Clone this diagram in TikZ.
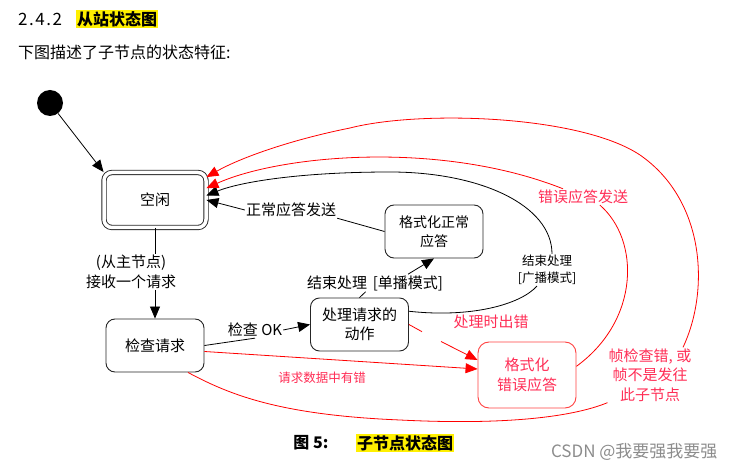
\documentclass[tikz,border=0pt]{standalone}
\usepackage{fontspec}
\setmainfont{Noto Sans CJK SC}
\usetikzlibrary{arrows.meta, positioning}

\definecolor{errred}{RGB}{255,0,0}
\definecolor{errtext}{RGB}{255,45,85}
\definecolor{hilite}{RGB}{255,240,0}

\begin{document}
\begin{tikzpicture}[x=1pt, y=-1pt,
        font=\fontsize{15}{19.5}\selectfont,
        state/.style={draw=black!85, line width=0.9pt, rounded corners=9pt, align=center, minimum width=98pt, minimum height=53pt, inner sep=2pt},
        errstate/.style={state, draw=errred!75, text=errtext, minimum height=66pt, rounded corners=11pt},
        lbl/.style={align=center, inner sep=1pt},
        small/.style={font=\fontsize{12.5}{17}\selectfont},
        arrow/.style={-{Triangle[length=12pt, width=10pt]}, line width=0.8pt},
        redline/.style={errred, line width=0.8pt},
        redarrow/.style={arrow, errred}
    ]
        \useasboundingbox (0,0) rectangle (736,470);

        % heading
        \node[font=\fontsize{17}{20}\selectfont, anchor=west, inner sep=0pt] (secnum) at (18,19) {2\kern1.5pt.\kern1.5pt4\kern1.5pt.\kern1.5pt2};
        \node[fill=hilite, inner sep=1pt, font=\fontsize{16}{20}\selectfont\bfseries, anchor=west] (sectitle) at (76,19) {从站状态图};
        \node[font=\fontsize{16}{20}\selectfont, anchor=west, inner sep=0pt] (intro) at (18,52) {下图描述了子节点的状态特征:};

        % states
        \node[circle, fill=black, minimum size=26pt, inner sep=0pt] (init) at (50,103) {};
        \node[state, double, double distance=3.5pt, minimum width=102pt, minimum height=55pt, rounded corners=8pt] (idle) at (155,200) {空闲};
        \node[state] (check) at (155,345.5) {检查请求};
        \node[state] (proc) at (359.5,324.5) {处理请求的\\动作};
        \node[state, font=\fontsize{14}{18.5}\selectfont] (fmtok) at (434,231.5) {格式化正常\\应答};
        \node[errstate] (errbox) at (527,375) {格式化\\错误应答};

        % labels
        \node[lbl] (recv) at (131,272) {(从主节点)\\接收一个请求};
        \node[lbl] (okl) at (255,330) {检查 OK};
        \node[lbl] (uni) at (375,283) {结束处理 \,{[}单播模式{]}};
        \node[lbl] (okmsg) at (291,210) {正常应答发送};
        \node[lbl, small] (bcast) at (547,270) {结束处理\\{[}广播模式{]}};
        \node[lbl, text=errtext] (errmsg) at (583,197) {错误应答发送};
        \node[lbl, text=errtext] (frmerr) at (650,375) {帧检查错, 或\\帧不是发往\\此子节点};
        \node[lbl, text=errtext] (procerr) at (491,322) {处理时出错};
        \node[lbl, small, text=errtext] (dataerr) at (322,378) {请求数据中有错};
        \coordinate (gapA) at (422,331.7);
        \coordinate (gapB) at (441,341.5);

        % normal path
        \draw[arrow] (init) -- (idle.north west);
        \draw[line width=0.8pt] (idle.south) -- (idle.south |- recv.north);
        \draw[arrow] (check.north |- recv.south) -- (check.north);
        \draw[line width=0.8pt] (check.east) -- (okl.south);
        \draw[arrow] (okl.east) -- (proc.west);
        \draw[line width=0.8pt] (proc.north) -- (uni);
        \draw[arrow] ([xshift=33pt]uni.north) -- (fmtok.south);
        \draw[line width=0.8pt] (fmtok.west) -- (okmsg.south east);
        \draw[arrow] (okmsg.west) -- (idle.east);
        \draw[line width=0.8pt] (proc.15) .. controls (470,318) and (520,305) .. ([xshift=-10pt]bcast.south);
        \draw[arrow] ([xshift=5pt]bcast.north) .. controls (552,205) and (480,172) .. (390,172) .. controls (300,172) and (240,182) .. (idle.5);

        % error paths
        \draw[redarrow] ([yshift=-6pt]check.east) -- ([yshift=6pt]errbox.west);
        \draw[redline] (proc.east) -- (gapA);
        \draw[redarrow] (gapB) -- ([yshift=15pt]errbox.west);
        \draw[redline] (errbox.10) .. controls (640,320) and (640,240) .. ([xshift=17pt]errmsg.south);
        \draw[redarrow] ([xshift=-20pt]errmsg.north) .. controls (440,140) and (280,155) .. (idle.13);
        \draw[redline] ([xshift=33pt]check.south) .. controls (230,395) and (280,415) .. (400,420) .. controls (500,425) and (570,418) .. (frmerr.south west);
        \draw[redarrow] ([xshift=33pt]frmerr.north) .. controls (710,290) and (705,200) .. (640,155) .. controls (580,115) and (420,110) .. (350,128) .. controls (290,140) and (240,158) .. (idle.24);

        % caption
        \node[font=\fontsize{16}{20}\selectfont\bfseries] (fignum) at (311,443) {图 5:};
        \node[fill=hilite, inner sep=1pt, font=\fontsize{16}{20}\selectfont\bfseries, right=24pt of fignum] (figtitle) {子节点状态图};
        \node[text=black!45, font=\fontsize{17}{20}\selectfont, anchor=east] (mark) at (721,452) {CSDN @我要强我要强};
    \end{tikzpicture}
\end{document}
